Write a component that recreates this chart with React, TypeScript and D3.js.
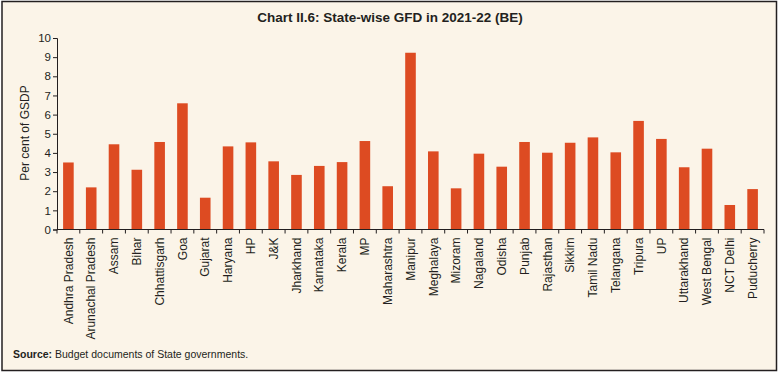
import React, { useEffect, useRef } from "react";
import * as d3 from "d3";

const states = [
  "Andhra Pradesh", "Arunachal Pradesh", "Assam", "Bihar", "Chhattisgarh", "Goa", "Gujarat",
  "Haryana", "HP", "J&K", "Jharkhand", "Karnataka", "Kerala", "MP", "Maharashtra", "Manipur",
  "Meghalaya", "Mizoram", "Nagaland", "Odisha", "Punjab", "Rajasthan", "Sikkim", "Tamil Nadu",
  "Telangana", "Tripura", "UP", "Uttarakhand", "West Bengal", "NCT Delhi", "Puducherry",
];
const gfd = [
  3.5, 2.2, 4.45, 3.12, 4.57, 6.59, 1.66, 4.34, 4.55, 3.56, 2.85, 3.32, 3.52, 4.62, 2.26, 9.23,
  4.08, 2.15, 3.96, 3.28, 4.57, 4.01, 4.53, 4.81, 4.03, 5.67, 4.73, 3.25, 4.22, 1.28, 2.11,
];
const yTicks = [0, 1, 2, 3, 4, 5, 6, 7, 8, 9, 10];
const title = "Chart II.6: State-wise GFD in 2021-22 (BE)";
const yLabel = "Per cent of GSDP";

const W = 780, H = 375;
const BG = "#FBF4E8";
const BAR = "#DD4B22";

export default function App() {
  const ref = useRef<SVGSVGElement>(null);
  useEffect(() => {
    const svg = d3.select(ref.current);
    svg.selectAll("*").remove();
    const xb = d3.scaleBand<string>().domain(states).range([57, 764]);
    const y = d3.scaleLinear().domain([0, 10]).range([229.5, 38]);

    svg.append("rect").attr("x", 0).attr("y", 0).attr("width", W).attr("height", H).attr("fill", "#fff");
    svg.append("rect").attr("x", 2).attr("y", 1.5).attr("width", 774.5).attr("height", 369)
      .attr("fill", BG).attr("stroke", "#231F20").attr("stroke-width", 1.5);

    svg.append("text").attr("x", 390).attr("y", 22).attr("text-anchor", "middle")
      .attr("font-family", "'Liberation Sans', Arial, sans-serif")
      .attr("font-weight", "bold").attr("font-size", 13.5).attr("fill", "#231F20").text(title);

    // bars
    svg.append("g").selectAll("rect").data(states).join("rect")
      .attr("x", (d) => (xb(d) as number) + xb.bandwidth() / 2 - 5.3)
      .attr("width", 10.6)
      .attr("y", (_d, i) => y(gfd[i]))
      .attr("height", (_d, i) => y(0) - y(gfd[i]))
      .attr("fill", BAR);

    const font = "'Liberation Sans', Arial, sans-serif";
    // y axis
    const ya = svg.append("g").attr("transform", "translate(57,0)")
      .call(d3.axisLeft(y).tickValues(yTicks).tickSize(4).tickPadding(2).tickFormat(d3.format("d")));
    ya.select(".domain").attr("stroke", "#231F20");
    ya.selectAll(".tick line").attr("stroke", "#231F20");
    ya.selectAll("text").attr("font-family", font).attr("font-size", 11.5).attr("fill", "#231F20");

    // x axis
    svg.append("line").attr("x1", 57).attr("x2", 764).attr("y1", y(0)).attr("y2", y(0)).attr("stroke", "#231F20");
    const bounds = states.map((s) => xb(s) as number).concat([764]);
    svg.append("g").selectAll("line").data(bounds).join("line")
      .attr("x1", (d) => d).attr("x2", (d) => d)
      .attr("y1", y(0)).attr("y2", y(0) + 4).attr("stroke", "#231F20");
    svg.append("g").selectAll("text").data(states).join("text")
      .attr("transform", (d) => `translate(${(xb(d) as number) + xb.bandwidth() / 2},237.5) rotate(-90)`)
      .attr("text-anchor", "end").attr("dy", "0.35em")
      .attr("font-family", font).attr("font-size", 12).attr("fill", "#231F20")
      .text((d) => d);

    svg.append("text").attr("transform", "translate(29,133) rotate(-90)")
      .attr("text-anchor", "middle").attr("font-family", font).attr("font-size", 12)
      .attr("fill", "#231F20").text(yLabel);

    const src = svg.append("text").attr("x", 13).attr("y", 358)
      .attr("font-family", font).attr("font-size", 10.5).attr("fill", "#231F20");
    src.append("tspan").attr("font-weight", "bold").text("Source:");
    src.append("tspan").text(" Budget documents of State governments.");
  }, []);
  return (
    <div style={{ position: "fixed", left: 0, top: 0 }}>
      <svg ref={ref} width={W} height={H} style={{ display: "block" }} />
    </div>
  );
}
